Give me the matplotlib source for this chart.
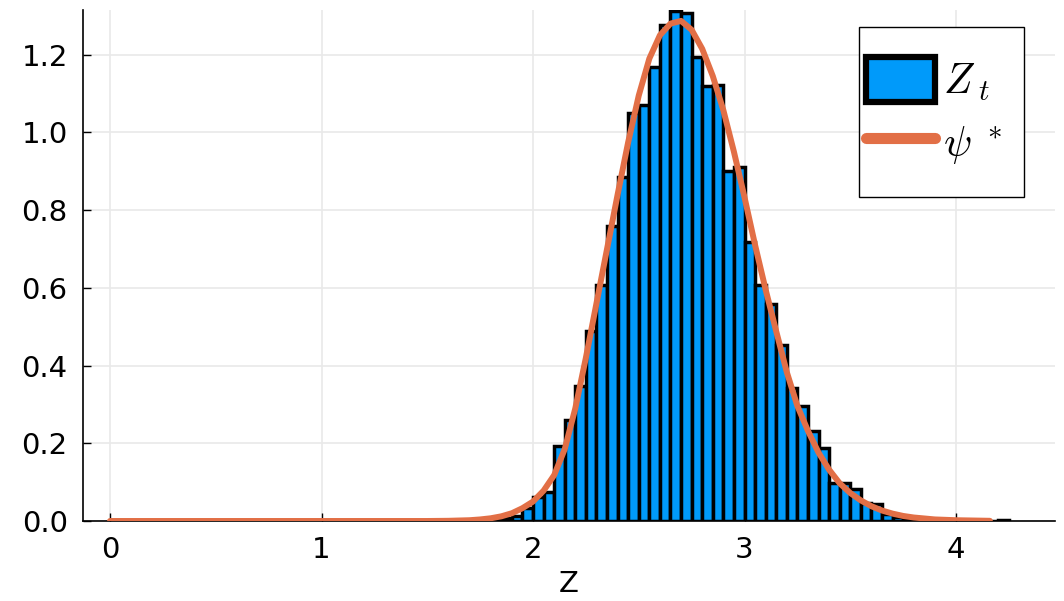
import numpy as np
import matplotlib
matplotlib.use('Agg')
import matplotlib.pyplot as plt
from matplotlib import rc
from matplotlib.patches import Rectangle

rc('font', **{'family': 'DejaVu Sans', 'size': 21})
rc('mathtext', fontset='cm')

# histogram of Z_t: left bin edges (width 0.05) and bar heights (density)
bin_width = 0.05
bin_left = [1.80, 1.85, 1.90, 1.95, 2.00, 2.05, 2.10, 2.15, 2.20, 2.25,
            2.30, 2.35, 2.40, 2.45, 2.50, 2.55, 2.60, 2.65, 2.70, 2.75,
            2.80, 2.85, 2.90, 2.95, 3.00, 3.05, 3.10, 3.15, 3.20, 3.25,
            3.30, 3.35, 3.40, 3.45, 3.50, 3.55, 3.60, 3.65, 3.70, 3.75,
            3.80, 3.85, 3.90, 3.95, 4.00, 4.05, 4.10, 4.15, 4.20]
bin_height = [0.002, 0.008, 0.012, 0.033, 0.062, 0.075, 0.193, 0.260, 0.348, 0.490,
              0.607, 0.758, 0.885, 1.050, 1.071, 1.169, 1.277, 1.312, 1.306, 1.194,
              1.120, 1.121, 0.901, 0.910, 0.717, 0.607, 0.558, 0.453, 0.342, 0.297,
              0.232, 0.189, 0.099, 0.099, 0.082, 0.046, 0.044, 0.019, 0.011, 0.005,
              0.003, 0.001, 0.001, 0.001, 0.0, 0.0, 0.0, 0.0, 0.003]

# stationary density psi*
psi_z = [0.0, 0.5, 1.0, 1.5, 1.6, 1.7, 1.75, 1.8, 1.85, 1.9, 1.95, 2.0, 2.05, 2.1,
         2.15, 2.2, 2.25, 2.3, 2.35, 2.4, 2.45, 2.5, 2.55, 2.6, 2.65, 2.7, 2.75,
         2.8, 2.85, 2.9, 2.95, 3.0, 3.05, 3.1, 3.15, 3.2, 3.25, 3.3, 3.35, 3.4,
         3.45, 3.5, 3.55, 3.6, 3.65, 3.7, 3.75, 3.8, 3.9, 4.0, 4.16]
psi_val = [0.0, 0.0, 0.0, 0.0, 0.0005, 0.002, 0.004, 0.007, 0.012, 0.02, 0.033, 0.05,
           0.078, 0.118, 0.185, 0.29, 0.42, 0.56, 0.70, 0.84, 0.975, 1.095, 1.19,
           1.25, 1.28, 1.287, 1.264, 1.215, 1.145, 1.057, 0.95, 0.833, 0.71, 0.595,
           0.488, 0.383, 0.296, 0.232, 0.176, 0.132, 0.097, 0.072, 0.053, 0.038,
           0.027, 0.019, 0.013, 0.009, 0.004, 0.002, 0.0005]

blue = '#009afa'
orange = '#e26f46'

W, H = 1064, 601
fig = plt.figure(figsize=(W/100, H/100), dpi=100)
ax = fig.add_axes([83/W, 80/H, 972/W, 511/H])

bars = ax.bar(bin_left, bin_height, width=bin_width, align='edge', color=blue,
              edgecolor='black', linewidth=2.5, zorder=2)
line, = ax.plot(psi_z, psi_val, color=orange, lw=4.3, solid_capstyle='round', zorder=3)

ax.set_xlim(-0.1277, 4.468)
ax.set_ylim(0, 1.315)
ax.set_xticks([0, 1, 2, 3, 4])
ax.set_yticks([0.0, 0.2, 0.4, 0.6, 0.8, 1.0, 1.2])
ax.set_yticklabels(['0.0', '0.2', '0.4', '0.6', '0.8', '1.0', '1.2'])
ax.set_xlabel('Z', labelpad=4)

ax.grid(True, color='#e9e9e9', lw=1.2)
ax.set_axisbelow(True)
for s in ['top', 'right']:
    ax.spines[s].set_visible(False)
for s in ['left', 'bottom']:
    ax.spines[s].set_linewidth(1.2)
ax.tick_params(direction='in', length=6, width=1.0, pad=11)

# legend box drawn separately so the padding can differ per side
ax.add_patch(Rectangle((859/W, 1 - 197/H), 165/W, 170/H, transform=fig.transFigure,
                       facecolor='white', edgecolor='black', lw=1.0, zorder=4,
                       clip_on=False))
leg = ax.legend([bars, line], [r'$Z_{\;t}$', r'$\psi^{\;*}$'], loc='upper left',
                fontsize=30, frameon=False, borderpad=0, labelspacing=0.4,
                handlelength=1.65, handleheight=1.3, handletextpad=0.2,
                borderaxespad=0)
leg.set_bbox_to_anchor((866/W, 1 - 57/H), transform=fig.transFigure)
leg.set_zorder(5)
leg.get_lines()[0].set_linewidth(8)
leg.get_patches()[0].set_linewidth(4.5)

plt.savefig('out.png', dpi=100)
